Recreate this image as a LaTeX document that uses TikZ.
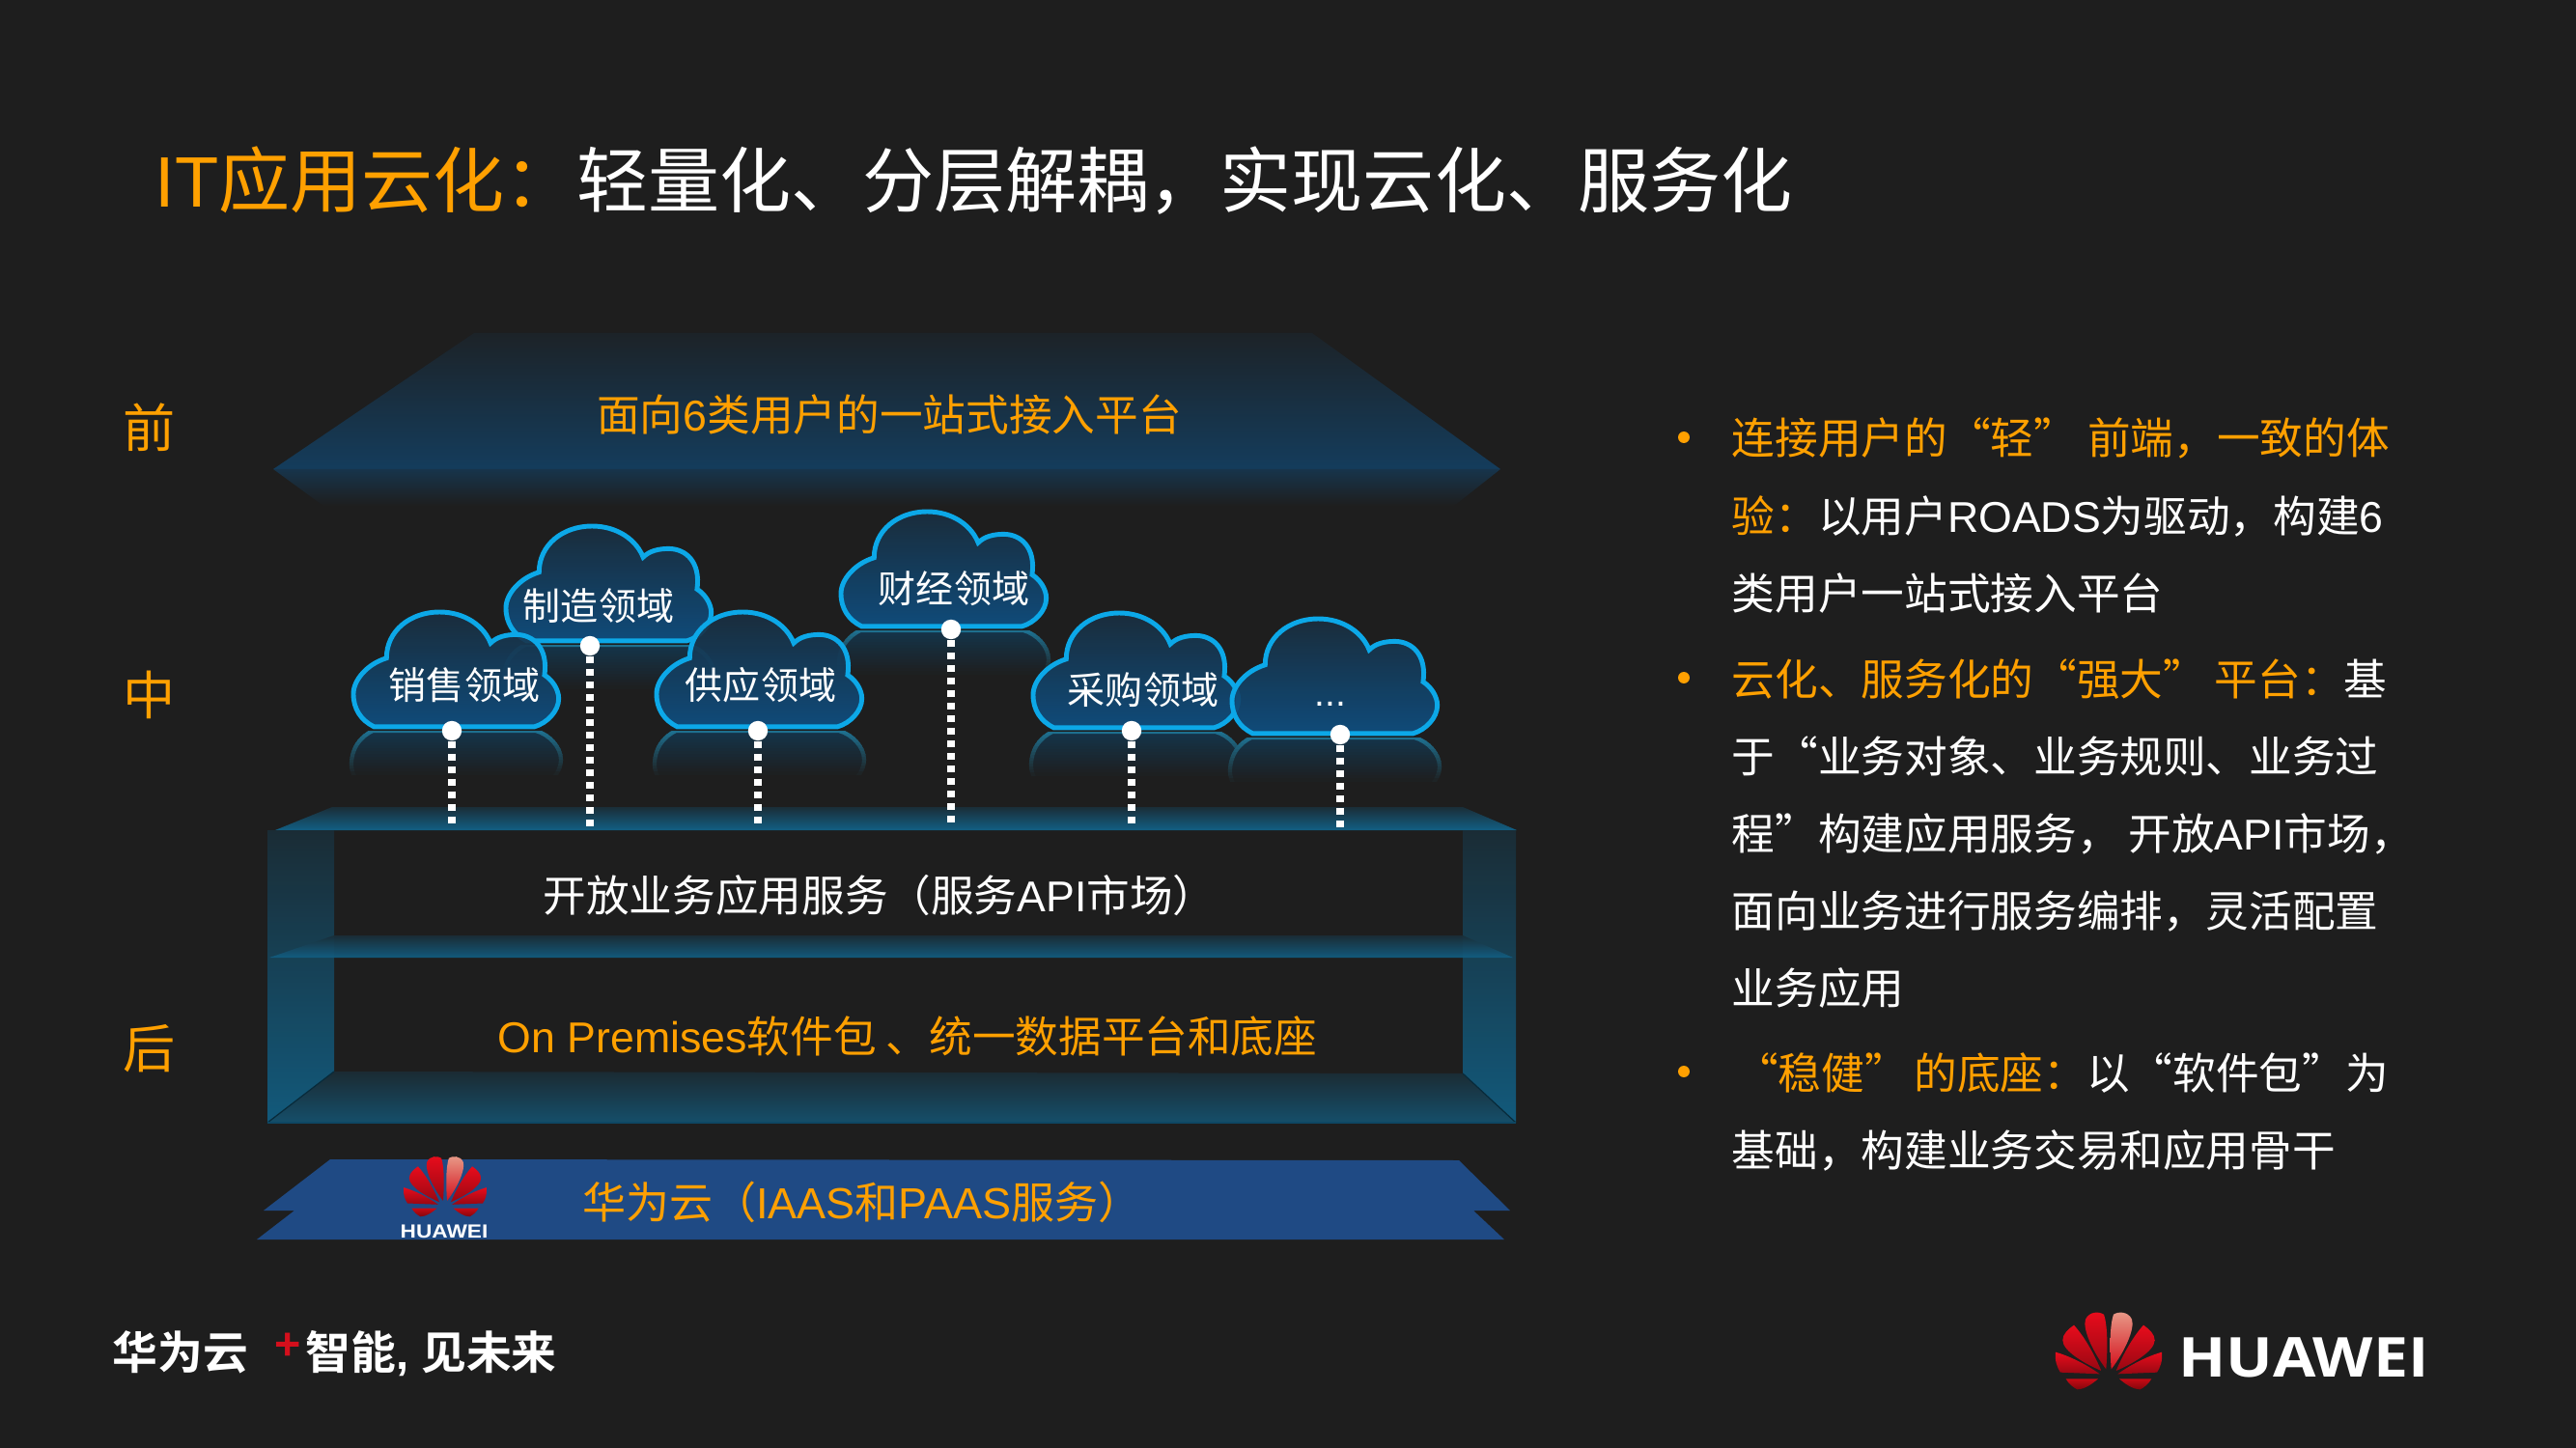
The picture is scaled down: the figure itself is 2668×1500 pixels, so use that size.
\documentclass[tikz,border=0pt]{standalone}
\usepackage{fontspec}
\setmainfont{Noto Sans CJK SC}[BoldFont={Noto Sans CJK SC Bold}]
\newfontfamily\latf{Liberation Sans}
\newfontfamily\logof{Open Sans}[BoldFont={Open Sans Bold}]
\newcommand\lat[1]{{\latf #1}}
\newcommand\fs[1]{\fontsize{#1pt}{#1pt}\selectfont}
\definecolor{bgc}{HTML}{1E1E1E}
\definecolor{org}{HTML}{FFA000}
\definecolor{wht}{HTML}{FFFFFF}
\definecolor{cloudline}{HTML}{0CA8E8}
\definecolor{cloudtop}{HTML}{1A2E3E}
\definecolor{cloudbot}{HTML}{0E4F82}
\definecolor{reflfill}{HTML}{14344A}
\definecolor{reflline}{HTML}{1E6F8E}
\definecolor{platedark}{HTML}{1A2E38}
\definecolor{platemid}{HTML}{125F84}
\definecolor{basec}{HTML}{1F4A84}
\definecolor{pinkc}{HTML}{E89A88}
\definecolor{redb}{HTML}{D40F1C}
\definecolor{redc}{HTML}{E80C1C}
\definecolor{redd}{HTML}{C80A14}
\tikzset{
  ttl/.style={anchor=base west,inner sep=0pt,font=\fs{21.05}},
  body/.style={anchor=base west,inner sep=0pt,font=\fs{12.7},text=wht},
  lbl/.style={anchor=base,inner sep=0pt,font=\fs{12.7}},
  side/.style={anchor=base,inner sep=0pt,font=\fs{15.4},text=org},
  cloudtxt/.style={anchor=base,inner sep=0pt,font=\fs{11.1},text=wht},
  dot/.style={circle,fill=white,inner sep=0pt,minimum size=5.8pt},
  bullet/.style={circle,fill=org,inner sep=0pt,minimum size=3.4pt},
  dashln/.style={draw=white,line width=2pt,dash pattern=on 2.1pt off 1.6pt},
  foot/.style={anchor=base west,inner sep=0pt,font=\fs{13.3}\bfseries,text=wht},
  petal/.style={top color=#1,bottom color=#1!65!black,draw=none},
  petal/.default=redc,
  wall/.style={top color=platedark,bottom color=platemid,draw=none,fill opacity=.92}
}
\newcommand\cloudshape{(22,122) .. controls (8,115) and (0,103) .. (0,87) .. controls (0,72) and (15,55) .. (35,49) .. controls (35,20) and (60,0) .. (91,0) .. controls (118,0) and (138,15) .. (145,33) .. controls (152,26) and (162,24) .. (172,24) .. controls (190,24) and (206,38) .. (202,67) .. controls (210,72) and (217,82) .. (217,92) .. controls (217,105) and (205,118) .. (191,122) -- cycle}
\newcommand\reflect[2]{%
  \foreach \i in {0,...,14}{%
    \pgfmathtruncatemacro\p{100-6.6*\i}%
    \begin{scope}[shift={(#1,#2+248)},yscale=-1]
      \clip (-10,122-3*\i) rectangle (230,122-3*\i-3.4);
      \draw[fill=reflfill!\p!bgc,draw=reflline!\p!bgc,line width=1.2pt] \cloudshape;
    \end{scope}}}
\newcommand\cloudbody[2]{%
  \begin{scope}[shift={(#1+2,#2+3)},xscale=.98,yscale=.975]
    \shade[top color=cloudtop,bottom color=cloudbot,fill opacity=.92] \cloudshape;
    \draw[cloudline,line width=1.4pt] \cloudshape;
  \end{scope}}
\newcommand\petalset[1]{%
  \path[#1] (-8,-35) .. controls (-3,-100) and (-3,-170) .. (-15,-205) .. controls (-30,-215) and (-60,-215) .. (-72,-190) .. controls (-82,-160) and (-50,-90) .. (-8,-35) -- cycle;
  \path[petal] (-23,-30) .. controls (-40,-70) and (-70,-130) .. (-108,-172) .. controls (-125,-160) and (-143,-145) .. (-143,-125) .. controls (-143,-90) and (-70,-50) .. (-23,-30) -- cycle;
  \path[petal] (-28,-20) .. controls (-70,-50) and (-120,-75) .. (-165,-88) .. controls (-168,-60) and (-160,-40) .. (-150,-25) -- cycle;
  \path[petal=redd] (-133,-5) -- (-33,-5) .. controls (-50,10) and (-75,28) .. (-98,28) .. controls (-110,22) and (-125,10) .. (-133,-5) -- cycle;}
\begin{document}
\begin{tikzpicture}[x=0.01cm,y=-0.01cm]
\useasboundingbox (0,0) rectangle (2668,1500);
\fill[bgc] (0,0) rectangle (2668,1500);

% title
\node[ttl,text=org] (t1) at (160,215) {\lat{IT}应用云化：};
\node[ttl,text=wht] (t2) at (597,215) {轻量化、分层解耦，实现云化、服务化};

% side labels
\node[side] (sf) at (155,464) {前};
\node[side] (sm) at (155,740) {中};
\node[side] (sb) at (155,1106) {后};

% top trapezoid
\shade[top color=bgc!90!cloudbot,bottom color=cloudbot!62!bgc] (491,345) -- (1359,345) -- (1554,486) -- (283,486) -- cycle;
\shade[top color=cloudbot!45!bgc,bottom color=bgc] (283,486) -- (1554,486) -- (1506,524) -- (335,524) -- cycle;
\node[lbl,text=org] (front) at (921,447) {面向\lat{6}类用户的一站式接入平台};

% cloud reflections
\reflect{522}{542}
\reflect{869}{527}
\reflect{364}{631}
\reflect{678}{631}
\reflect{1068}{632}
\reflect{1274}{638}

% box faces
\shade[top color=platedark,bottom color=platemid] (344,836) -- (1515,836) -- (1571,860) -- (285,860) -- cycle;
\shade[wall] (277,860) -- (346,860) -- (346,1110) -- (277,1163) -- cycle;
\shade[wall] (1570,860) -- (1515,860) -- (1515,1112) -- (1570,1163) -- cycle;
\shade[top color=platedark,bottom color=platemid,fill opacity=.92] (346,969) -- (1515,969) -- (1567,992) -- (279,992) -- cycle;
\shade[top color=platedark!80!bgc,bottom color=platemid!75!bgc] (346,1110) -- (1515,1112) -- (1570,1163) -- (277,1163) -- cycle;
\draw[platemid!45!black,line width=.35pt] (346,1110) -- (277,1163);
\draw[platemid!45!black,line width=.35pt] (1515,1112) -- (1570,1163);
\draw[platemid!75!black,line width=.35pt] (277,1163) -- (1570,1163);

% clouds
\cloudbody{522}{542}
\cloudbody{869}{527}
\cloudbody{364}{631}
\cloudbody{678}{631}
\cloudbody{1068}{632}
\cloudbody{1274}{638}
\node[cloudtxt] (c2) at (620,642) {制造领域};
\node[cloudtxt] (c4) at (988,624) {财经领域};
\node[cloudtxt] (c1) at (481,725) {销售领域};
\node[cloudtxt] (c3) at (788,725) {供应领域};
\node[cloudtxt] (c5) at (1184,729) {采购领域};
\node[cloudtxt,text=wht] (c6) at (1378,731) {\lat{...}};

% dots and dashed connectors
\node[dot] (d1) at (468,757) {};
\node[dot] (d2) at (611,669) {};
\node[dot] (d3) at (785,757) {};
\node[dot] (d4) at (985,652) {};
\node[dot] (d5) at (1172,757) {};
\node[dot] (d6) at (1388,761) {};
\coordinate (e1) at (468,857);
\coordinate (e2) at (611,858);
\coordinate (e3) at (785,857);
\coordinate (e4) at (985,856);
\coordinate (e5) at (1172,857);
\coordinate (e6) at (1388,860);
\foreach \k in {1,...,6}{\draw[dashln] (d\k.south) -- (e\k);}

% box labels
\node[lbl,text=wht] (svc) at (911,944) {开放业务应用服务（服务\lat{API}市场）};
\node[lbl,text=org] (prem) at (940,1090) {\lat{On Premises}软件包 、统一数据平台和底座};

% base
\fill[basec] (342,1201) -- (1511,1202) -- (1564,1254) -- (1526,1254) -- (1558,1284) -- (266,1284) -- (305,1254) -- (273,1254) -- cycle;
\node[lbl,text=org,font=\fs{12.8}] (cloudlbl) at (893,1262) {华为云（\lat{IAAS}和\lat{PAAS}服务）};
\begin{scope}[shift={(461,1253)},scale=.26]
  \petalset{petal}
  \begin{scope}[xscale=-1]\petalset{top color=pinkc,bottom color=redb}\end{scope}
\end{scope}
\node[anchor=base,inner sep=0pt,text=white,font=\latf\bfseries\fs{5.6}] (hw1) at (460,1282) {\scalebox{1.15}[1]{HUAWEI}};

% right list
\node[bullet] (b1) at (1744,453) {};
\node[body,text=org] (l1) at (1793,471) {连接用户的“轻”\hspace{.25em}前端，一致的体};
\node[body] (l2) at (1793,551) {\textcolor{org}{验：}以用户\lat{ROADS}为驱动，构建\lat{6}};
\node[body] (l3) at (1793,631) {类用户一站式接入平台};
\node[bullet] (b2) at (1744,702) {};
\node[body] (l4) at (1793,720) {\textcolor{org}{云化、服务化的“强大”\hspace{.2em}平台：}基};
\node[body] (l5) at (1793,800) {于“业务对象、业务规则、业务过};
\node[body] (l6) at (1793,880) {程”构建应用服务，\hspace{.2em}开放\lat{API}市场，};
\node[body] (l7) at (1793,960) {面向业务进行服务编排，灵活配置};
\node[body] (l8) at (1793,1040) {业务应用};
\node[bullet] (b3) at (1744,1110) {};
\node[body] (l9) at (1793,1128) {\hspace*{0.08em}\textcolor{org}{“稳健”\hspace{.15em}的底座：}以“软件包”为};
\node[body] (l10) at (1793,1208) {基础，构建业务交易和应用骨干};

% footer
\node[foot] (f1) at (116,1418) {华为云};
\node[foot,text=redb] (f2) at (284,1408) {\lat{\textbf{+}}};
\node[foot] (f3) at (316,1418) {智能\lat{\textbf{, }}见未来};

% logo
\begin{scope}[shift={(2184,1430)},scale=.3333]
  \petalset{petal}
  \begin{scope}[xscale=-1]\petalset{top color=pinkc,bottom color=redb}\end{scope}
\end{scope}
\node[anchor=base west,inner sep=0pt,text=white,font=\logof\bfseries\fs{16.2}] (hw2) at (2256,1426) {\scalebox{1.13}[1]{HUAWEI}};
\end{tikzpicture}
\end{document}
